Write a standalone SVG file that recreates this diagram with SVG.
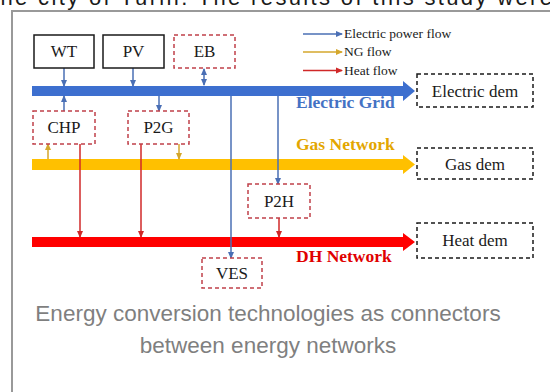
<svg xmlns="http://www.w3.org/2000/svg" width="550" height="392" viewBox="0 0 550 392">
<defs>
<marker id="mb" markerUnits="userSpaceOnUse" markerWidth="8" markerHeight="8" refX="6" refY="4" orient="auto-start-reverse"><path d="M0,1 L7,4 L0,7 z" fill="#4A6FB5"/></marker>
<marker id="mg" markerUnits="userSpaceOnUse" markerWidth="8" markerHeight="8" refX="6" refY="4" orient="auto-start-reverse"><path d="M0,1 L7,4 L0,7 z" fill="#D4A72C"/></marker>
<marker id="mr" markerUnits="userSpaceOnUse" markerWidth="8" markerHeight="8" refX="6" refY="4" orient="auto-start-reverse"><path d="M0,1 L7,4 L0,7 z" fill="#D02828"/></marker>
</defs>
<style>
.lbl{font-family:"Liberation Serif","Times New Roman",serif;font-size:17px;fill:#1a1a1a;text-anchor:middle}
.leg{font-family:"Liberation Serif","Times New Roman",serif;font-size:13.5px;fill:#1a1a1a}
.net{font-family:"Liberation Serif","Times New Roman",serif;font-size:17.5px;font-weight:bold}
.solid{fill:#fff;stroke:#1a1a1a;stroke-width:1.5}
.dr{fill:#fff;stroke:#C0404A;stroke-width:1.5;stroke-dasharray:4 3}
.dk{fill:#fff;stroke:#1a1a1a;stroke-width:1.5;stroke-dasharray:4 3}
.cb{stroke:#4A6FB5;stroke-width:1.5;fill:none}
.cg{stroke:#D4A72C;stroke-width:1.5;fill:none}
.cr{stroke:#D02828;stroke-width:1.5;fill:none}
.cap{font-family:"Liberation Sans",Arial,sans-serif;font-size:22.5px;fill:#7F7F7F;text-anchor:middle}
</style>
<rect width="550" height="392" fill="#fff"/>
<text x="-8" y="5" font-family="Liberation Sans, Arial, sans-serif" font-size="22" fill="#1a1a1a" textLength="560" lengthAdjust="spacing">the city of Turin. The results of this study were</text>
<rect x="12" y="11" width="600" height="500" fill="#fff" stroke="#999" stroke-width="2"/>

<g id="networks">
<polygon points="32,86 403,86 403,81 415,91 403,101 403,96 32,96" fill="#3D6FCF"/>
<polygon points="32,159 403,159 403,155 415,164.5 403,174 403,170 32,170" fill="#FFC000"/>
<polygon points="32,237 403,237 403,233 415,242 403,251 403,247 32,247" fill="#FF0000"/>
<text class="net" x="296" y="108" fill="#4472C4">Electric Grid</text>
<text class="net" x="296" y="150" fill="#E3A600">Gas Network</text>
<text class="net" x="296" y="262" fill="#E00000">DH Network</text>
</g>

<g id="connectors">
<line class="cb" x1="64" y1="68" x2="64" y2="86" marker-end="url(#mb)"/>
<line class="cb" x1="133" y1="68" x2="133" y2="86" marker-end="url(#mb)"/>
<line class="cb" x1="204" y1="69" x2="204" y2="85" marker-start="url(#mb)" marker-end="url(#mb)"/>
<line class="cb" x1="64" y1="111" x2="64" y2="96" marker-end="url(#mb)"/>
<line class="cb" x1="159" y1="96" x2="159" y2="111" marker-end="url(#mb)"/>
<line class="cb" x1="231" y1="96" x2="231" y2="258" marker-end="url(#mb)"/>
<line class="cb" x1="278" y1="96" x2="278" y2="184" marker-end="url(#mb)"/>
<line class="cg" x1="48" y1="159" x2="48" y2="144" marker-end="url(#mg)"/>
<line class="cg" x1="179" y1="144" x2="179" y2="159" marker-end="url(#mg)"/>
<line class="cr" x1="80" y1="144" x2="80" y2="237" stroke="#C0303A" marker-end="url(#mr)"/>
<line class="cr" x1="141" y1="144" x2="141" y2="237" marker-end="url(#mr)"/>
<line class="cr" x1="279" y1="218" x2="279" y2="237" marker-end="url(#mr)"/>
</g>

<g id="WT"><rect class="solid" x="34" y="35" width="60" height="33"/><text class="lbl" x="64" y="57">WT</text></g>
<g id="PV"><rect class="solid" x="103" y="35" width="61" height="33"/><text class="lbl" x="133.5" y="57">PV</text></g>
<g id="EB"><rect class="dr" x="174" y="35" width="61" height="33"/><text class="lbl" x="204.5" y="57">EB</text></g>
<g id="CHP"><rect class="dr" x="33" y="111" width="62" height="33"/><text class="lbl" x="64" y="133">CHP</text></g>
<g id="P2G"><rect class="dr" x="128" y="111" width="61" height="33"/><text class="lbl" x="158.5" y="133">P2G</text></g>
<g id="P2H"><rect class="dr" x="248" y="184" width="62" height="34"/><text class="lbl" x="279" y="207">P2H</text></g>
<g id="VES"><rect class="dr" x="202" y="258" width="60" height="30"/><text class="lbl" x="232" y="279">VES</text></g>
<g id="ElecDem"><rect class="dk" x="417" y="74" width="116" height="33"/><text class="lbl" x="475" y="97" font-size="17.5">Electric dem</text></g>
<g id="GasDem"><rect class="dk" x="417" y="148" width="116" height="31"/><text class="lbl" x="475" y="170" font-size="17.5">Gas dem</text></g>
<g id="HeatDem"><rect class="dk" x="417" y="223" width="116" height="35"/><text class="lbl" x="475" y="246" font-size="17.5">Heat dem</text></g>

<g id="legend">
<line class="cb" x1="303" y1="34" x2="342" y2="34" marker-end="url(#mb)"/>
<text class="leg" x="344" y="38">Electric power flow</text>
<line class="cg" x1="303" y1="52" x2="342" y2="52" marker-end="url(#mg)"/>
<text class="leg" x="344" y="56">NG flow</text>
<line class="cr" x1="303" y1="70.5" x2="342" y2="70.5" marker-end="url(#mr)"/>
<text class="leg" x="344" y="74.5">Heat flow</text>
</g>

<text class="cap" x="268" y="321">Energy conversion technologies as connectors</text>
<text class="cap" x="268" y="353">between energy networks</text>
</svg>
